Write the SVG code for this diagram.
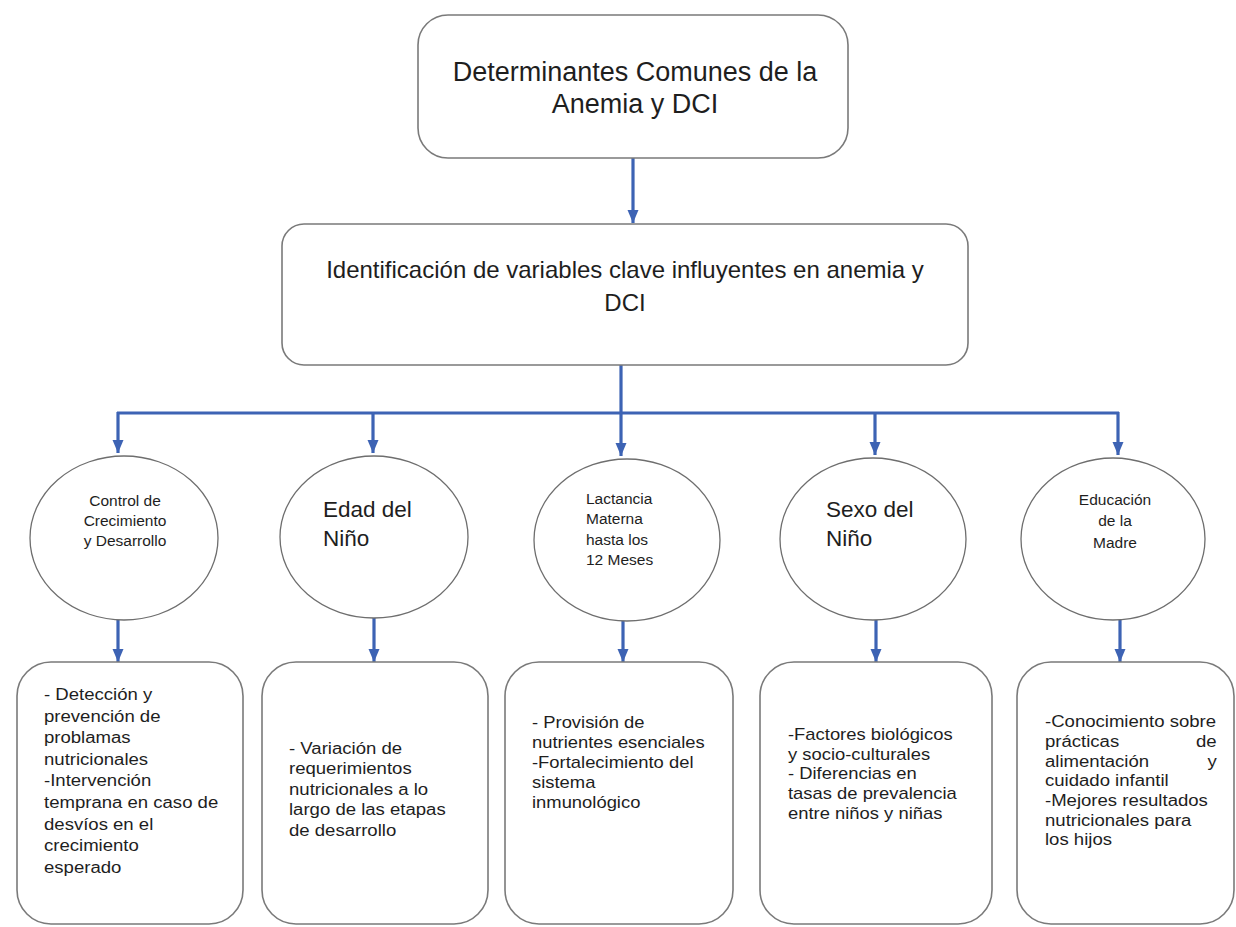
<svg xmlns="http://www.w3.org/2000/svg" width="1236" height="927" viewBox="0 0 1236 927">
<defs>
<marker id="arr" markerUnits="userSpaceOnUse" markerWidth="14" markerHeight="14" viewBox="0 0 14 14" refX="13" refY="7" orient="auto">
<path d="M0,1.5 L13,7 L0,12.5 Z" fill="#3d63b4"/>
</marker>
</defs>
<style>
.box{fill:#fff;stroke:#7a7a7a;stroke-width:1.6}
.ell{fill:#fff;stroke:#6e6e6e;stroke-width:1.3}
.con{fill:none;stroke:#3d63b4;stroke-width:3.2}
.arw{fill:none;stroke:#3d63b4;stroke-width:3.2;marker-end:url(#arr)}
text{font-family:"Liberation Sans",Arial,sans-serif;fill:#1e1e1e}
.top{font-size:27px}
.big{font-size:24px}
.mid{font-size:22.5px}
.sm{font-size:15.5px}
.bt{font-size:16px}
.c{text-anchor:middle}
.e{text-anchor:end}
</style>
<rect width="1236" height="927" fill="#fff"/>
<g id="connectors">
<line class="arw" x1="633" y1="158" x2="633" y2="223"/>
<line class="con" x1="621" y1="365" x2="621" y2="413"/>
<line class="con" x1="117" y1="413" x2="1119" y2="413"/>
<line class="arw" x1="118" y1="412" x2="118" y2="453"/>
<line class="arw" x1="373" y1="412" x2="373" y2="453"/>
<line class="arw" x1="621" y1="412" x2="621" y2="456"/>
<line class="arw" x1="875" y1="412" x2="875" y2="455"/>
<line class="arw" x1="1118" y1="412" x2="1118" y2="455"/>
<line class="arw" x1="118" y1="620" x2="118" y2="662"/>
<line class="arw" x1="374" y1="617" x2="374" y2="662"/>
<line class="arw" x1="623" y1="620" x2="623" y2="662"/>
<line class="arw" x1="876" y1="620" x2="876" y2="662"/>
<line class="arw" x1="1120" y1="620" x2="1120" y2="662"/>
</g>
<g id="top">
<rect class="box" x="418" y="15" width="430" height="143" rx="30"/>
<text class="top c" x="635" y="81">Determinantes Comunes de la</text>
<text class="top c" x="635" y="113">Anemia y DCI</text>
</g>
<g id="ident">
<rect class="box" x="282" y="224" width="686" height="141" rx="22"/>
<text class="big c" x="625" y="278">Identificación de variables clave influyentes en anemia y</text>
<text class="big c" x="625" y="311">DCI</text>
</g>
<g id="n1">
<ellipse class="ell" cx="124" cy="538" rx="94" ry="82"/>
<text class="sm c" x="125" y="506">Control de</text>
<text class="sm c" x="125" y="526">Crecimiento</text>
<text class="sm c" x="125" y="546">y Desarrollo</text>
</g>
<g id="n2">
<ellipse class="ell" cx="374" cy="537" rx="94" ry="81"/>
<text class="mid" x="323" y="517">Edad del</text>
<text class="mid" x="323" y="546">Niño</text>
</g>
<g id="n3">
<ellipse class="ell" cx="627" cy="540" rx="93" ry="81"/>
<text class="sm" x="586" y="504">Lactancia</text>
<text class="sm" x="586" y="524">Materna</text>
<text class="sm" x="586" y="545">hasta los</text>
<text class="sm" x="586" y="565">12 Meses</text>
</g>
<g id="n4">
<ellipse class="ell" cx="873" cy="539" rx="93" ry="81"/>
<text class="mid" x="826" y="517">Sexo del</text>
<text class="mid" x="826" y="546">Niño</text>
</g>
<g id="n5">
<ellipse class="ell" cx="1113" cy="539" rx="92" ry="81"/>
<text class="sm c" x="1115" y="505">Educación</text>
<text class="sm c" x="1115" y="526">de la</text>
<text class="sm c" x="1115" y="548">Madre</text>
</g>
<g id="b1">
<rect class="box" x="17" y="662" width="226" height="262" rx="34"/>
<g transform="translate(44 0) scale(1.16 1)">
<text class="bt" x="0" y="700">- Detección y</text>
<text class="bt" x="0" y="721.6">prevención de</text>
<text class="bt" x="0" y="743.2">problamas</text>
<text class="bt" x="0" y="764.8">nutricionales</text>
<text class="bt" x="0" y="786.4">-Intervención</text>
<text class="bt" x="0" y="808">temprana en caso de</text>
<text class="bt" x="0" y="829.6">desvíos en el</text>
<text class="bt" x="0" y="851.2">crecimiento</text>
<text class="bt" x="0" y="872.8">esperado</text>
</g>
</g>
<g id="b2">
<rect class="box" x="262" y="662" width="226" height="262" rx="34"/>
<g transform="translate(289 0) scale(1.16 1)">
<text class="bt" x="0" y="754">- Variación de</text>
<text class="bt" x="0" y="774.5">requerimientos</text>
<text class="bt" x="0" y="795">nutricionales a lo</text>
<text class="bt" x="0" y="815.5">largo de las etapas</text>
<text class="bt" x="0" y="836">de desarrollo</text>
</g>
</g>
<g id="b3">
<rect class="box" x="505" y="662" width="228" height="262" rx="34"/>
<g transform="translate(532 0) scale(1.15 1)">
<text class="bt" x="0" y="728">- Provisión de</text>
<text class="bt" x="0" y="748">nutrientes esenciales</text>
<text class="bt" x="0" y="768">-Fortalecimiento del</text>
<text class="bt" x="0" y="788">sistema</text>
<text class="bt" x="0" y="808">inmunológico</text>
</g>
</g>
<g id="b4">
<rect class="box" x="760" y="662" width="232" height="262" rx="34"/>
<g transform="translate(788 0) scale(1.15 1)">
<text class="bt" x="0" y="740">-Factores biológicos</text>
<text class="bt" x="0" y="760">y socio-culturales</text>
<text class="bt" x="0" y="779"> - Diferencias en</text>
<text class="bt" x="0" y="799">tasas de prevalencia</text>
<text class="bt" x="0" y="819">entre niños y niñas</text>
</g>
</g>
<g id="b5">
<rect class="box" x="1017" y="662" width="217" height="262" rx="34"/>
<g transform="translate(1045 0) scale(1.16 1)">
<text class="bt" x="0" y="727">-Conocimiento sobre</text>
<text class="bt" x="0" y="747">prácticas</text>
<text class="bt e" x="148" y="747">de</text>
<text class="bt" x="0" y="767">alimentación</text>
<text class="bt e" x="148" y="767">y</text>
<text class="bt" x="0" y="786">cuidado infantil</text>
<text class="bt" x="0" y="806">-Mejores resultados</text>
<text class="bt" x="0" y="826">nutricionales para</text>
<text class="bt" x="0" y="845">los hijos</text>
</g>
</g>
</svg>
